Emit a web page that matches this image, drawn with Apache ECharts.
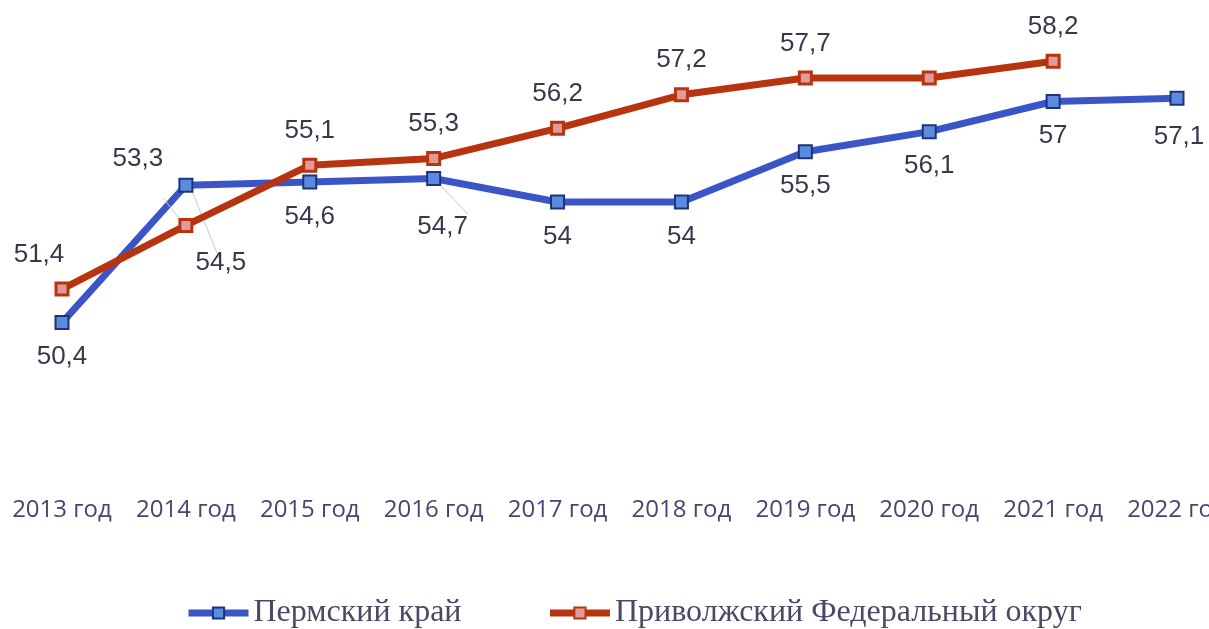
<!DOCTYPE html>
<html>
<head>
<meta charset="utf-8">
<script src="https://cdn.jsdelivr.net/npm/echarts@6/dist/echarts.min.js"></script>
<style>
  html, body { margin: 0; padding: 0; background: #fff; }
  #chart { width: 1209px; height: 629px; }
</style>
</head>
<body>
<div id="chart"></div>
<script>
var years = ['2013 год', '2014 год', '2015 год', '2016 год', '2017 год',
             '2018 год', '2019 год', '2020 год', '2021 год', '2022 год'];
var permValues = [50.4, 54.5, 54.6, 54.7, 54, 54, 55.5, 56.1, 57, 57.1];
var pfoValues = [51.4, 53.3, 55.1, 55.3, 56.2, 57.2, 57.7, 57.7, 58.2, null];
var seriesNames = ['Пермский край', 'Приволжский Федеральный округ'];

// some labels sit away from their points in the original
var permOffsets = {1: [35, 43], 3: [9, 14], 9: [2, 4]};
var pfoOffsets = {0: [-23, 0], 1: [-48, -32]};
var pfoHidden = {7: true};
var guideLine = {show: true, lineStyle: {color: '#c8c8d4', width: 1}};

function fmt(v) {
    return String(v).replace('.', ',');
}

function buildData(values, offsets, hidden, guides) {
    return values.map(function (v, i) {
        var item = {value: v};
        if (offsets[i]) item.label = {offset: offsets[i]};
        if (hidden && hidden[i]) item.label = {show: false};
        if (guides && guides[i]) item.labelLine = guideLine;
        return item;
    });
}

var chart = echarts.init(document.getElementById('chart'));

var labelFont = {
    fontFamily: 'Liberation Sans',
    fontSize: 26,
    color: '#37374d'
};

var option = {
    animation: false,
    grid: {
        left: 62,
        right: 32,
        top: 1,
        bottom: 226,
        outerBoundsMode: 'none',
        containLabel: false
    },
    legend: {
        top: 592,
        left: 180,
        itemWidth: 60,
        itemHeight: 14,
        itemGap: 85,
        data: seriesNames,
        lineStyle: {width: 7},
        textStyle: {
            fontFamily: 'Liberation Serif',
            fontSize: 32,
            color: '#4a4866'
        }
    },
    xAxis: {
        type: 'category',
        data: years,
        boundaryGap: false,
        axisLine: {show: false},
        axisTick: {show: false},
        axisLabel: {
            margin: 95,
            fontFamily: 'Open Sans',
            fontSize: 24,
            color: '#4a4570',
            interval: 0,
            hideOverlap: false
        }
    },
    yAxis: {
        type: 'value',
        min: 48,
        max: 60,
        show: false,
        splitLine: {show: false}
    },
    series: [{
        name: seriesNames[0],
        type: 'line',
        data: buildData(permValues, permOffsets, null, {1: true, 3: true}),
        symbol: 'rect',
        symbolSize: 13,
        lineStyle: {color: '#3a55c8', width: 7},
        itemStyle: {color: '#5b8be0', borderColor: '#1e3478', borderWidth: 2},
        label: Object.assign({
            show: true,
            position: 'bottom',
            distance: 14,
            formatter: function (p) { return fmt(p.value); }
        }, labelFont),
        z: 2
    }, {
        name: seriesNames[1],
        type: 'line',
        data: buildData(pfoValues, pfoOffsets, pfoHidden, {1: true}),
        symbol: 'rect',
        symbolSize: 12,
        lineStyle: {color: '#b8340e', width: 7},
        itemStyle: {color: '#e09a9a', borderColor: '#b8340e', borderWidth: 3},
        label: Object.assign({
            show: true,
            position: 'top',
            distance: 14,
            formatter: function (p) { return fmt(p.value); }
        }, labelFont),
        z: 3
    }]
};

chart.setOption(option);
</script>
</body>
</html>
